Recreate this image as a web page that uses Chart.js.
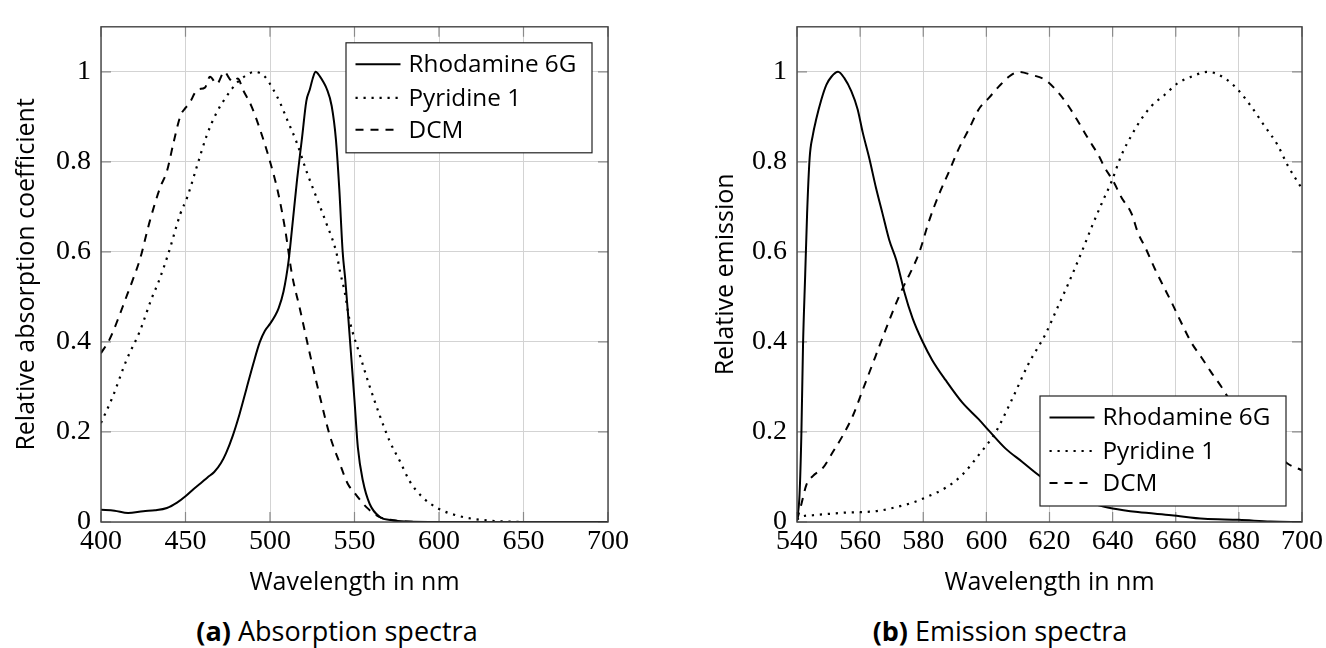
<!DOCTYPE html>
<html><head><meta charset="utf-8">
<script src="https://cdn.jsdelivr.net/npm/chart.js@4"></script>
<style>
html,body{margin:0;padding:0;background:#fff}
body{width:1326px;height:648px;overflow:hidden;position:relative;font-family:'Open Sans',sans-serif}
#w1{position:absolute;left:0;top:0;width:660px;height:600px}
#w2{position:absolute;left:660px;top:0;width:666px;height:600px}
.cap{position:absolute;top:614px;height:34px;line-height:34px;font-size:27px;color:#000;white-space:nowrap;transform:translateX(-50%)}
.cap b{font-weight:700}
</style></head><body>
<div id="w1"><canvas id="c1" width="660" height="600"></canvas></div>
<div id="w2"><canvas id="c2" width="666" height="600"></canvas></div>
<div class="cap" style="left:337px"><b>(a)</b> Absorption spectra</div>
<div class="cap" style="left:1000px"><b>(b)</b> Emission spectra</div>
<script>
// ---------- Data ----------
const seriesNames = ["Rhodamine 6G", "Pyridine 1", "DCM"];

// (a) Absorption
const absR6G_x = [400,408,416,425,432,439,445,450,455,459,463,467,471,474,478,482,486,490,494,497,500,503,505,508,511,513,516,519,521.5,523.5,525.5,527,529.5,531.5,533.5,536.5,539,541,543,544.5,546,548,550,552,555,559,565,572,580,600,650,700];
const absR6G_y = [0.027,0.025,0.020,0.024,0.026,0.031,0.043,0.057,0.074,0.086,0.099,0.111,0.131,0.153,0.192,0.240,0.295,0.350,0.400,0.425,0.440,0.458,0.474,0.512,0.580,0.650,0.760,0.855,0.935,0.960,0.988,1.000,0.990,0.978,0.963,0.924,0.850,0.740,0.600,0.540,0.470,0.370,0.270,0.165,0.091,0.040,0.011,0.004,0.001,0,0,0];

const absPyr_x = [400,407,415,423,430,434,440,447,451,457,462.6,468.5,474.4,480.3,486.2,491,497,502,506,510,515.7,521.6,527.5,533.4,539.3,541.5,544,547,553,559,565,571,577,582.6,590.5,600,610,620,630,640,650,700];
const absPyr_y = [0.220,0.279,0.359,0.424,0.497,0.533,0.598,0.685,0.721,0.793,0.859,0.910,0.946,0.975,0.993,1.000,0.989,0.960,0.931,0.895,0.844,0.779,0.721,0.663,0.598,0.555,0.515,0.450,0.373,0.301,0.236,0.178,0.134,0.091,0.054,0.029,0.015,0.007,0.003,0.001,0,0];

const absDCM_x = [400,405,410,414,419,423,429,435,439,443,447,450,452,457,461.5,464.5,468.5,473,476,478,481,484,489,494,500,505,509,513,517.6,523.6,529.5,535.4,541.3,546,550,557,565,573,580,600,700];
const absDCM_y = [0.375,0.405,0.450,0.490,0.540,0.583,0.670,0.743,0.779,0.844,0.902,0.920,0.928,0.960,0.965,0.989,0.973,1.000,0.985,0.978,0.985,0.960,0.924,0.873,0.801,0.728,0.649,0.550,0.475,0.373,0.279,0.192,0.130,0.085,0.065,0.033,0.011,0.004,0.001,0,0];

// (b) Emission
const emR6G_x = [540,540.8,541.4,541.9,542.6,543.2,544,545,546.1,547.7,549.3,550.9,553,555,557.2,559.2,560.8,562.9,565,567.1,569.2,571.4,573,574,576.6,579.7,582.9,587.1,592.4,597.6,600.8,606.1,611.3,617,620,625,630,635,640,648,658.6,669,680,690,700];
const emR6G_y = [0.004,0.060,0.200,0.390,0.550,0.685,0.808,0.859,0.895,0.938,0.971,0.989,1.000,0.986,0.957,0.917,0.866,0.808,0.743,0.685,0.627,0.583,0.540,0.511,0.453,0.402,0.359,0.315,0.265,0.228,0.203,0.163,0.134,0.102,0.090,0.070,0.052,0.038,0.030,0.022,0.015,0.007,0.005,0.001,0];

const emPyr_x = [540,541,545,550,555.6,560.8,566,571.4,576.6,581.9,587.1,592.4,597.6,602.9,608.1,613.4,618.7,622.9,626,630.2,633.4,636.5,639.7,642.8,646,649.1,652.3,656.5,660.7,664.9,670.2,675.5,679.7,683.8,688.1,692.3,695.4,700];
const emPyr_y = [0.005,0.011,0.015,0.018,0.021,0.022,0.025,0.033,0.043,0.058,0.076,0.105,0.149,0.199,0.272,0.352,0.417,0.482,0.530,0.600,0.656,0.707,0.757,0.815,0.859,0.895,0.924,0.949,0.975,0.989,1.000,0.986,0.960,0.924,0.880,0.837,0.793,0.740];

const emDCM_x = [540,541.4,543,545,548.2,551.4,554.5,557.7,560.8,564,567.1,570.3,573.4,576,578.7,581.9,585,588.2,591.3,594.5,597.6,600.8,603.9,607.1,610.3,614.4,618.7,622.9,626,629.2,632.3,635.5,637.6,640.2,642.8,646,648.1,650.2,653.4,656,658.6,661.8,664.9,668.1,671.2,674.4,677,680,685,690,695.4,700];
const emDCM_y = [0.004,0.040,0.083,0.102,0.120,0.156,0.192,0.236,0.293,0.352,0.409,0.467,0.518,0.555,0.598,0.670,0.728,0.779,0.830,0.873,0.917,0.942,0.967,0.989,1.000,0.993,0.982,0.953,0.924,0.888,0.851,0.815,0.786,0.757,0.721,0.685,0.641,0.612,0.562,0.525,0.489,0.442,0.399,0.366,0.333,0.301,0.272,0.245,0.200,0.165,0.130,0.115];

// Axis ticks
const absXTicks = [400,450,500,550,600,650,700];
const emXTicks = [540,560,580,600,620,640,660,680,700];
const yTicks = [0,0.2,0.4,0.6,0.8,1];

// ---------- Helpers ----------
const SANS = "'Open Sans', sans-serif";
const SERIF = "'Liberation Serif', serif";
const styles = [
  {borderDash: [], borderWidth: 2},
  {borderDash: [2.2, 5.8], borderWidth: 2.2},
  {borderDash: [8, 7], borderWidth: 2}
];
function pts(xs, ys){ return xs.map((x,i)=>({x:x, y:ys[i]})); }
function makeDatasets(list){
  return list.map((d,i)=>({
    label: seriesNames[i],
    data: pts(d[0], d[1]),
    borderColor: '#000',
    borderWidth: styles[i].borderWidth,
    borderDash: styles[i].borderDash,
    borderCapStyle: 'butt',
    pointRadius: 0,
    fill: false,
    cubicInterpolationMode: 'monotone'
  }));
}

const framePlugin = {
  id: 'frame',
  beforeDatasetsDraw(chart){
    const {ctx, chartArea: a, scales} = chart;
    ctx.save();
    ctx.strokeStyle = '#8a8a8a';
    ctx.lineWidth = 1.2;
    const tl = 10;
    scales.x.ticks.forEach(t=>{
      const px = scales.x.getPixelForValue(t.value);
      ctx.beginPath();
      ctx.moveTo(px, a.bottom); ctx.lineTo(px, a.bottom - tl);
      ctx.moveTo(px, a.top); ctx.lineTo(px, a.top + tl);
      ctx.stroke();
    });
    scales.y.ticks.forEach(t=>{
      const py = scales.y.getPixelForValue(t.value);
      ctx.beginPath();
      ctx.moveTo(a.left, py); ctx.lineTo(a.left + tl, py);
      ctx.moveTo(a.right, py); ctx.lineTo(a.right - tl, py);
      ctx.stroke();
    });
    ctx.restore();
  },
  afterDatasetsDraw(chart, args, opts){
    const {ctx, chartArea: a} = chart;
    ctx.save();
    ctx.strokeStyle = '#444';
    ctx.lineWidth = 1.4;
    ctx.strokeRect(a.left, a.top, a.right - a.left, a.bottom - a.top);
    const bw = 246, bh = 110, m = 16;
    const bx = a.right - m - bw;
    const by = opts.pos === 'ne' ? a.top + m : a.bottom - m - bh;
    ctx.fillStyle = '#fff';
    ctx.fillRect(bx, by, bw, bh);
    ctx.strokeStyle = '#222';
    ctx.lineWidth = 1.2;
    ctx.strokeRect(bx, by, bw, bh);
    const rows = [21.5, 55, 87];
    chart.data.datasets.forEach((ds,i)=>{
      const yy = by + rows[i];
      ctx.save();
      ctx.strokeStyle = ds.borderColor;
      ctx.lineWidth = ds.borderWidth;
      ctx.setLineDash(ds.borderDash);
      ctx.beginPath();
      ctx.moveTo(bx + 9.5, yy); ctx.lineTo(bx + 54.5, yy);
      ctx.stroke();
      ctx.restore();
      ctx.fillStyle = '#000';
      ctx.font = "24.3px " + SANS;
      ctx.textBaseline = 'middle';
      ctx.textAlign = 'left';
      ctx.fillText(ds.label, bx + 62.5, yy + 1);
    });
    ctx.restore();
  }
};

function makeChart(id, datasets, xmin, xmax, xticks, yTitle, yWidth, yTitlePad, padRight, legendPos){
  return new Chart(document.getElementById(id), {
    type: 'line',
    data: {datasets},
    plugins: [framePlugin],
    options: {
      responsive: false,
      animation: false,
      events: [],
      layout: {padding: {top: 15, right: padRight, left: 0, bottom: 0}},
      plugins: {legend: {display: false}, tooltip: {enabled: false}, frame: {pos: legendPos}},
      scales: {
        x: {
          type: 'linear', min: xmin, max: xmax,
          afterBuildTicks: s => { s.ticks = xticks.map(v=>({value:v})); },
          afterFit: s => { s.height = 78; },
          grid: {color: '#d3d3d3', lineWidth: 1, drawTicks: false},
          border: {display: false},
          ticks: {font: {family: SERIF, size: 28}, color: '#000', padding: 3, maxRotation: 0, autoSkip: false,
                  callback: v => String(v)},
          title: {display: true, text: 'Wavelength in nm', font: {family: SANS, size: 25}, color: '#000',
                  padding: {top: 0, bottom: 2}}
        },
        y: {
          type: 'linear', min: 0, max: 1.1,
          afterBuildTicks: s => { s.ticks = yTicks.map(v=>({value:v})); },
          afterFit: s => { s.width = yWidth; },
          grid: {color: '#d3d3d3', lineWidth: 1, drawTicks: false},
          border: {display: false},
          ticks: {font: {family: SERIF, size: 28}, color: '#000', padding: 10,
                  callback: v => String(+Number(v).toFixed(1))},
          title: {display: true, text: yTitle, font: {family: SANS, size: 25}, color: '#000',
                  padding: {top: yTitlePad, bottom: 0}}
        }
      }
    }
  });
}

makeChart('c1', makeDatasets([[absR6G_x,absR6G_y],[absPyr_x,absPyr_y],[absDCM_x,absDCM_y]]),
  400, 700, absXTicks, 'Relative absorption coefficient', 101, 12, 52, 'ne');
makeChart('c2', makeDatasets([[emR6G_x,emR6G_y],[emPyr_x,emPyr_y],[emDCM_x,emDCM_y]]),
  540, 700, emXTicks, 'Relative emission', 137, 51, 22, 'se');
</script>
</body></html>
